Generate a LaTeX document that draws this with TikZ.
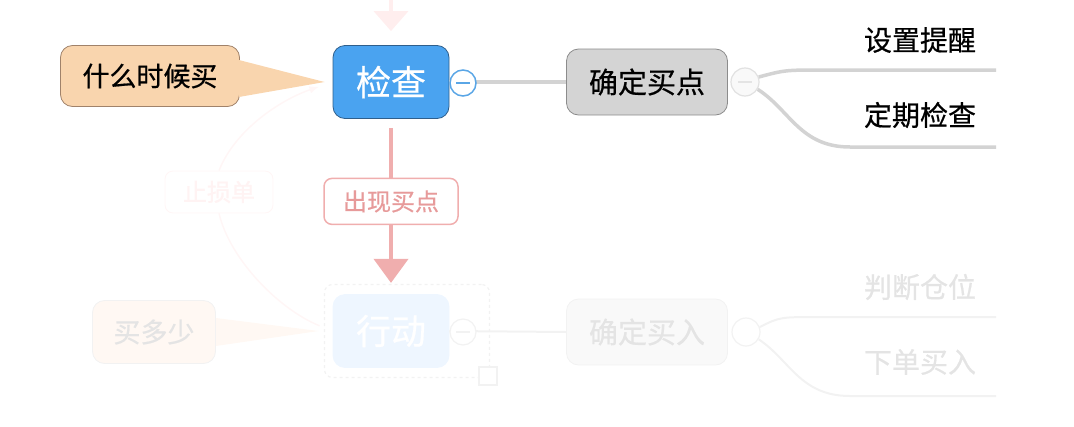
\documentclass[tikz,border=0pt]{standalone}
\usepackage{fontspec}
\newfontfamily\cjk[FakeBold=0.6]{Noto Sans CJK SC}
\usetikzlibrary{arrows.meta}
\definecolor{peachfill}{HTML}{F9D5AE}
\definecolor{peachline}{HTML}{A0826A}
\definecolor{mainblue}{HTML}{4AA3F0}
\definecolor{blueline}{HTML}{2F5F8C}
\definecolor{foldblue}{HTML}{5AA6E6}
\definecolor{topicgray}{HTML}{D4D4D4}
\definecolor{topicline}{HTML}{8C8C8C}
\definecolor{branchgray}{HTML}{D3D3D3}
\definecolor{flowpink}{HTML}{F0AEAE}
\definecolor{flowtext}{HTML}{E79A9A}
\definecolor{fadepink}{HTML}{FFEEEE}
\definecolor{fadepeach}{HTML}{FFF8F3}
\definecolor{fadeblue}{HTML}{EEF6FF}
\definecolor{fadegray}{HTML}{F9F9F9}
\definecolor{fadeline}{HTML}{F2F2F2}
\definecolor{fadetext}{HTML}{E4E4E4}
\begin{document}
\begin{tikzpicture}[x=1pt,y=-1pt]
% Styles
\tikzset{
  callout/.style={rectangle, draw=peachline, fill=peachfill, line width=0.8pt, rounded corners=12pt, inner sep=0pt, font=\cjk\fontsize{27}{30}\selectfont},
  central/.style={rectangle, draw=blueline, fill=mainblue, text=white, line width=0.8pt, rounded corners=12pt, inner sep=0pt, minimum width=116pt, minimum height=73pt, font=\cjk\fontsize{35}{37}\selectfont},
  topic/.style={rectangle, draw=topicline, fill=topicgray, line width=0.8pt, rounded corners=12pt, inner sep=0pt, minimum width=161pt, minimum height=66pt, font=\cjk\fontsize{29}{32}\selectfont},
  leaf/.style={inner sep=0pt, font=\cjk\fontsize{28}{30}\selectfont},
  fold/.style={circle, draw=foldblue, fill=white, line width=1.5pt, minimum size=26pt, inner sep=0pt},
  graycircle/.style={circle, draw=fadeline!85!gray, fill=fadegray, line width=1.2pt, minimum size=28pt, inner sep=0pt},
  branch/.style={draw=branchgray, line width=3.5pt},
  flow/.style={draw=flowpink, line width=4pt, -{Triangle[width=34pt,length=24pt]}},
  flowlabel/.style={rectangle, draw=flowpink, fill=white, text=flowtext, line width=1.5pt, rounded corners=8pt, inner sep=0pt, minimum width=134pt, minimum height=46pt, font=\cjk\fontsize{24}{26}\selectfont},
  faded/.style={text=fadetext, draw=fadeline, line width=0.8pt, rounded corners=12pt, inner sep=0pt}
}
\useasboundingbox (0,0) rectangle (1074,426);

% Faded lower part
\node[faded, fill=fadepeach, minimum width=123pt, minimum height=63pt, font=\cjk\fontsize{27}{30}\selectfont] (howmuch) at (154,332) {买多少};
\node[faded, fill=white, draw=fadepink!50, text=fadepink!70, minimum width=108pt, minimum height=42pt, rounded corners=8pt, font=\cjk\fontsize{24}{26}\selectfont] (stop) at (219,192) {止损单};
\node[rectangle, draw=fadeline, dashed, line width=1.2pt, rounded corners=8pt, minimum width=165pt, minimum height=93pt] (actbox) at (407,331) {};
\node[rectangle, draw=fadeline, fill=white, line width=1.2pt, minimum size=18pt] (handle) at (488,376) {};
\node[faded, fill=fadeblue, draw=fadeblue, text=white, minimum width=116pt, minimum height=73pt, font=\cjk\fontsize{35}{37}\selectfont] (act) at (391,331) {行动};
\node[faded, fill=fadegray, minimum width=161pt, minimum height=66pt, font=\cjk\fontsize{29}{32}\selectfont] (buyin) at (647,332) {确定买入};
\node[leaf, text=fadetext] (pos) at (920,287) {判断仓位};
\node[leaf, text=fadetext] (order) at (920,362) {下单买入};
\coordinate (r3) at (996,317);
\coordinate (r4) at (996,396);
\fill[fadepeach] ([yshift=14pt]howmuch.east) -- ([xshift=-14pt]act.west) -- ([yshift=-14pt]howmuch.east) -- cycle;
\draw[draw=fadeline, line width=2pt] (act.east) -- (buyin.west);
\node[circle, draw=fadeline, fill=white, line width=1.2pt, minimum size=26pt] (fold2) at (463,332) {};
\draw[draw=fadeline, line width=1.2pt] ([xshift=-7pt]fold2.center) -- ([xshift=7pt]fold2.center);
\node[circle, draw=fadeline, fill=white, line width=1.2pt, minimum size=28pt] (more2) at (746,332) {};
\draw[draw=fadeline, line width=2pt] (more2.20) .. controls (780,317) .. (820,317) -- (r3);
\draw[draw=fadeline, line width=2pt] (more2.-30) .. controls (790,360) and (800,396) .. (850,396) -- (r4);
\draw[draw=fadepink!50, line width=1.5pt, shorten >=14pt] (stop.south) .. controls (230,260) and (280,310) .. (act.west);

% Upper part
\node[callout, minimum width=179pt, minimum height=61pt] (when) at (150,76) {什么时候买};
\node[central] (check) at (391,82) {检查};
\node[topic] (buy) at (647,82) {确定买点};
\node[leaf] (remind) at (920,40) {设置提醒};
\node[leaf] (review) at (920,115) {定期检查};
\coordinate (r1) at (996,70);
\coordinate (r2) at (996,147);
\coordinate (up) at (391,0);

% Connectors
\draw[draw=fadepink!50, line width=1.5pt, -{Latex[length=10pt]}, shorten >=14pt] (stop.north) .. controls (235,130) and (280,100) .. (check.west);
\fill[peachfill] ([yshift=16pt,xshift=-1pt]when.east) -- ([xshift=-8pt]check.west) -- ([yshift=-21pt,xshift=-1pt]when.east) -- cycle;
\draw[draw=fadepink, line width=4pt, -{Triangle[width=34pt,length=20pt]}, shorten >=14pt] (up) -- (check);
\draw[branch, line width=4.5pt] (check.east) -- (buy.west);
\node[fold] (fold1) at (463,83) {};
\draw[draw=foldblue, line width=1.5pt] ([xshift=-7pt]fold1.center) -- ([xshift=7pt]fold1.center);
\node[graycircle] (more) at (745,82) {};
\draw[draw=fadetext, line width=1.2pt] ([xshift=-7pt]more.center) -- ([xshift=7pt]more.center);
\draw[branch] (more.20) .. controls (785,70) .. (825,70) -- (r1);
\draw[branch] (more.-30) .. controls (790,110) and (800,147) .. (850,147) -- (r2);
\draw[flow, shorten <=9pt, shorten >=1pt] (check.south) -- node[flowlabel] {出现买点} (check.south |- actbox.north);

\end{tikzpicture}
\end{document}
